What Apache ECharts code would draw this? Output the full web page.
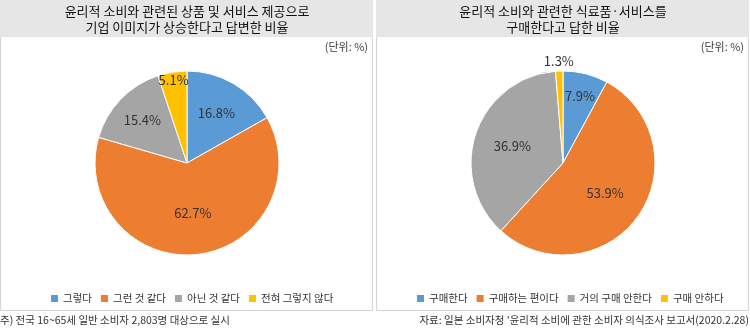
<!DOCTYPE html>
<html>
<head>
<meta charset="utf-8">
<script src="https://cdn.jsdelivr.net/npm/echarts@6/dist/echarts.min.js"></script>
<style>
  html, body { margin: 0; padding: 0; background: #fff; }
  #chart { width: 750px; height: 328px; }
</style>
</head>
<body>
<div id="chart"></div>
<script>
// Left pie: corporate image improvement
const imageCategories = ['그렇다', '그런 것 같다', '아닌 것 같다', '전혀 그렇지 않다'];
const imageValues = [16.8, 62.7, 15.4, 5.1];
// Right pie: purchase of ethical food/services
const purchaseCategories = ['구매한다', '구매하는 편이다', '거의 구매 안한다', '구매 안하다'];
const purchaseValues = [7.9, 53.9, 36.9, 1.3];

const titleLeft = '윤리적 소비와 관련된 상품 및 서비스 제공으로\n기업 이미지가 상승한다고 답변한 비율';
const titleRight = '윤리적 소비와 관련한 식료품·서비스를\n구매한다고 답한 비율';
const unitText = '(단위: %)';
const noteLeft = '주) 전국 16~65세 일반 소비자 2,803명 대상으로 실시';
const noteRight = "자료: 일본 소비자청 '윤리적 소비에 관한 소비자 의식조사 보고서(2020.2.28)";

const palette = ['#5B9BD5', '#ED7D31', '#A5A5A5', '#FFC000'];
const FONT = '"Noto Sans CJK KR", "Noto Sans", sans-serif';
const R = 92;

// Push each label along its slice's bisector to a chosen fraction of the radius
function radialLabels(values, factors) {
  const total = values.reduce((a, b) => a + b, 0);
  return function (params) {
    const i = params.dataIndex;
    let acc = 0;
    for (let j = 0; j < i; j++) acc += values[j];
    const mid = (acc + values[i] / 2) / total * Math.PI * 2;
    const k = factors[i] - 0.5;
    return { dx: k * R * Math.sin(mid), dy: -k * R * Math.cos(mid) };
  };
}

function pieSeries(names, values, center, factors) {
  return {
    type: 'pie',
    center: center,
    radius: [0, R],
    startAngle: 90,
    clockwise: true,
    animation: false,
    silent: true,
    data: names.map((n, i) => ({ name: n, value: values[i] })),
    itemStyle: { borderColor: '#ffffff', borderWidth: 1 },
    label: {
      show: true,
      position: 'inside',
      formatter: p => p.value.toFixed(1) + '%',
      color: '#333',
      fontSize: 13,
      fontFamily: FONT
    },
    labelLine: { show: false },
    labelLayout: radialLabels(values, factors)
  };
}

const chart = echarts.init(document.getElementById('chart'), null, { renderer: 'canvas' });

const legendCommon = {
  orient: 'horizontal',
  top: 288,
  itemWidth: 9,
  itemHeight: 9,
  itemGap: 7,
  icon: 'rect',
  textStyle: { fontSize: 10.5, color: '#333', fontFamily: FONT, padding: [0, 0, 0, -1] },
  selectedMode: false
};

const titleStyle = { fontSize: 13, fontWeight: 'normal', color: '#111', fontFamily: FONT, lineHeight: 16 };

chart.setOption({
  color: palette,
  animation: false,
  title: [
    { text: titleLeft, left: 187, top: 3, textAlign: 'center', padding: 0, textStyle: titleStyle },
    { text: titleRight, left: 563, top: 3, textAlign: 'center', padding: 0, textStyle: titleStyle }
  ],
  legend: [
    Object.assign({ left: 44, data: imageCategories }, legendCommon),
    Object.assign({ left: 410, data: purchaseCategories }, legendCommon)
  ],
  graphic: [
    // panel frames and title bands
    { type: 'rect', shape: { x: 0.5, y: 0.5, width: 372, height: 310 }, style: { fill: '#fff', stroke: '#d4d4d4', lineWidth: 1 }, z: -10 },
    { type: 'rect', shape: { x: 376.5, y: 0.5, width: 372, height: 310 }, style: { fill: '#fff', stroke: '#d4d4d4', lineWidth: 1 }, z: -10 },
    { type: 'rect', shape: { x: 0, y: 0, width: 373, height: 37 }, style: { fill: '#e6e6e6' }, z: -9 },
    { type: 'rect', shape: { x: 376, y: 0, width: 373, height: 37 }, style: { fill: '#e6e6e6' }, z: -9 },
    { type: 'text', x: 368, y: 47, style: { text: unitText, align: 'right', verticalAlign: 'middle', fontSize: 11, fill: '#404040', fontFamily: FONT } },
    { type: 'text', x: 744, y: 47, style: { text: unitText, align: 'right', verticalAlign: 'middle', fontSize: 11, fill: '#404040', fontFamily: FONT } },
    { type: 'text', x: 0, y: 320, style: { text: noteLeft, align: 'left', verticalAlign: 'middle', fontSize: 10.5, fill: '#333', fontFamily: FONT } },
    { type: 'text', x: 749, y: 320, style: { text: noteRight, align: 'right', verticalAlign: 'middle', fontSize: 10.5, fill: '#333', fontFamily: FONT } }
  ],
  series: [
    pieSeries(imageCategories, imageValues, [187, 163], [0.6, 0.51, 0.64, 0.88]),
    pieSeries(purchaseCategories, purchaseValues, [563, 163], [0.72, 0.53, 0.55, 1.08])
  ]
});
</script>
</body>
</html>
